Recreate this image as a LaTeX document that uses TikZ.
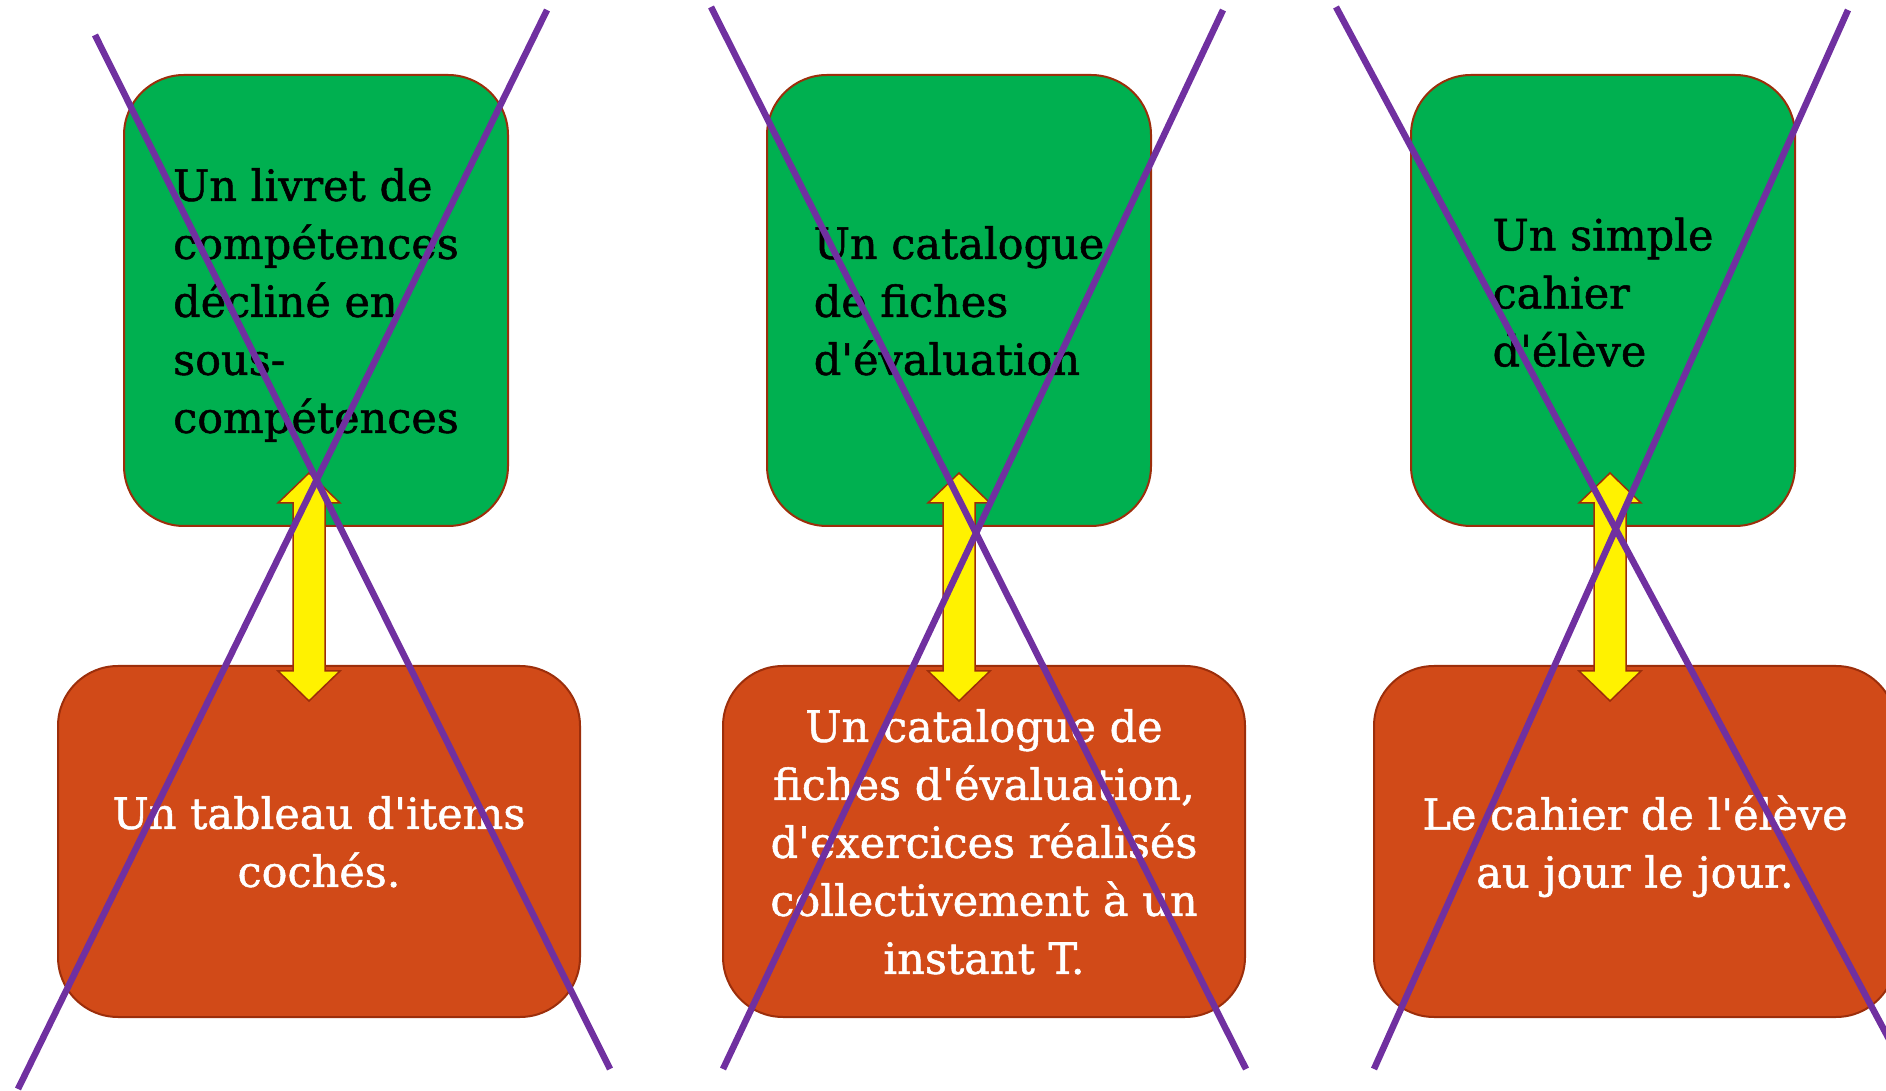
\documentclass[tikz,border=0pt]{standalone}
\usepackage{fontspec}
\newfontfamily\police{DejaVu Serif}[FakeBold=1.2]
\usetikzlibrary{calc}
\definecolor{vert}{HTML}{00B050}
\definecolor{rouille}{HTML}{D14A18}
\definecolor{bord}{HTML}{9C2E0B}
\definecolor{violet}{HTML}{7030A0}
\begin{document}
\begin{tikzpicture}[x=1pt,y=1pt,
  boite/.style={draw=bord, line width=2pt, rounded corners=60pt, inner sep=0pt,
    text depth=0pt, font=\police\fontsize{43}{58}\selectfont},
  haut/.style={boite, fill=vert, text=black, align=left,
    minimum width=384pt, minimum height=451pt},
  bas/.style={boite, fill=rouille, text=white, align=center,
    minimum width=522pt, minimum height=351pt},
  fleche/.style={draw=bord, line width=1.5pt, fill=yellow},
  croix/.style={draw=violet, line width=6.5pt}]
\useasboundingbox (0,0) rectangle (1886,1090);
\newcommand\pointes[2]{
\path[fleche] (#1) -- ++(31,-30) -- ++(-15,0) -- ($(#2)+(16,30)$) -- ++(15,0)
  -- (#2) -- ++(-31,30) -- ++(15,0) -- ($(#1)+(-16,-30)$) -- ++(-15,0) -- cycle;
}
\node[haut] (v1) at (316,789.5) {Un livret de\\compétences\\décliné en\\sous-\\compétences};
\node[haut] (v2) at (959,789.5) {Un catalogue\\de fiches\\d'évaluation};
\node[haut, text depth=17pt] (v3) at (1603,789.5) {Un simple\\cahier\\d'élève};
\node[bas] (r1) at (319,248.5) {Un tableau d'items\\cochés.};
\node[bas] (r2) at (984,248.5) {Un catalogue de\\fiches d'évaluation,\\d'exercices réalisés\\collectivement à un\\instant T.};
\node[bas] (r3) at (1635,248.5) {Le cahier de l'élève\\au jour le jour.};
\coordinate (h1) at (309,617);
\coordinate (b1) at (309,389);
\coordinate (h2) at (959,617);
\coordinate (b2) at (959,389);
\coordinate (h3) at (1610,617);
\coordinate (b3) at (1610,389);
\pointes{h1}{b1}
\pointes{h2}{b2}
\pointes{h3}{b3}
\path[croix] (95,1055) -- (610,21);
\path[croix] (547,1080) -- (18,1);
\path[croix] (711,1083) -- (1246,21);
\path[croix] (1223,1080) -- (723,21);
\path[croix] (1336,1083) -- (1905,21);
\path[croix] (1848,1080) -- (1374,21);
\end{tikzpicture}
\end{document}
